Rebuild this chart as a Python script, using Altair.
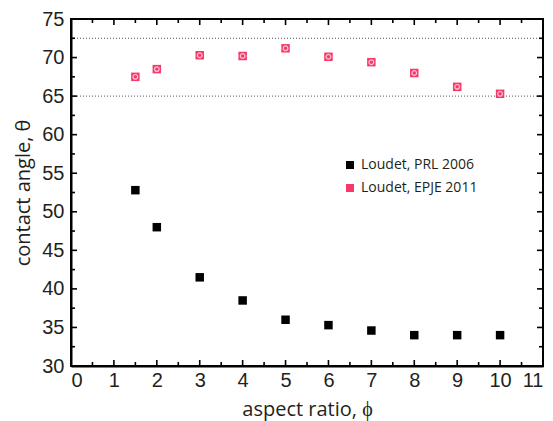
import altair as alt
import pandas as pd

aspect = [1.5, 2, 3, 4, 5, 6, 7, 8, 9, 10]
prl_2006 = [52.8, 48.0, 41.5, 38.5, 36.0, 35.3, 34.6, 34.0, 34.0, 34.0]
epje_2011 = [67.5, 68.5, 70.3, 70.2, 71.2, 70.1, 69.4, 68.0, 66.2, 65.3]
ref_lines = [65.0, 72.5]
series_names = ["Loudet, PRL 2006", "Loudet, EPJE 2011"]
colors = ["#000000", "#f7396a"]

x_range = [0, 11]
y_range = [30, 75]
x_major = list(range(0, 12))
x_minor = [i + 0.5 for i in range(0, 11)]
y_major = list(range(30, 80, 5))
y_minor = [32.5 + 5 * i for i in range(0, 9)]

W, H = 472, 347

rows = []
for s, vals in zip(series_names, (prl_2006, epje_2011)):
    for a, t in zip(aspect, vals):
        rows.append({"phi": a, "theta": t, "series": s, "kind": "data"})
for t in ref_lines:
    rows.append({"phi": x_range[0], "theta": t, "series": "", "kind": "ref"})
rows.append({"phi": x_range[0], "theta": y_range[1], "series": "", "kind": "frame_top"})
rows.append({"phi": x_range[1], "theta": y_range[0], "series": "", "kind": "frame_right"})
for v in x_major:
    rows.append({"phi": v, "theta": y_range[0], "series": "", "kind": "tb_major"})
    rows.append({"phi": v, "theta": y_range[1], "series": "", "kind": "tt_major"})
for v in x_minor:
    rows.append({"phi": v, "theta": y_range[0], "series": "", "kind": "tb_minor"})
    rows.append({"phi": v, "theta": y_range[1], "series": "", "kind": "tt_minor"})
for v in y_major:
    rows.append({"phi": x_range[0], "theta": v, "series": "", "kind": "tl_major"})
    rows.append({"phi": x_range[1], "theta": v, "series": "", "kind": "tr_major"})
for v in y_minor:
    rows.append({"phi": x_range[0], "theta": v, "series": "", "kind": "tl_minor"})
    rows.append({"phi": x_range[1], "theta": v, "series": "", "kind": "tr_minor"})
df = pd.DataFrame(rows)

xs = alt.Scale(domain=x_range, nice=False, zero=False)
ys = alt.Scale(domain=y_range, nice=False, zero=False)

TXT = "#231f20"
LBL_FONT = "Liberation Sans"
TTL_FONT = "Open Sans"

x_axis = alt.Axis(
    values=x_major, tickSize=0,
    labelFont=LBL_FONT, labelFontSize=20,
    labelColor=TXT, labelPadding=4, title="aspect ratio, ϕ", titleFont=TTL_FONT,
    titleFontSize=20, titleFontWeight="normal", titleColor=TXT, titlePadding=9,
    grid=False, domainColor="#000", domainWidth=2)
y_axis = alt.Axis(
    values=y_major, tickSize=0,
    labelFont=LBL_FONT, labelFontSize=20,
    labelColor=TXT, labelPadding=7, title="contact angle, θ", titleFont=TTL_FONT,
    titleFontSize=20, titleFontWeight="normal", titleColor=TXT, titlePadding=8,
    grid=False, domainColor="#000", domainWidth=2)

X = alt.X("phi:Q", scale=xs, axis=x_axis, title="aspect ratio, ϕ")
Y = alt.Y("theta:Q", scale=ys, axis=y_axis, title="contact angle, θ")

base = alt.Chart(df)


def only(kind):
    return base.transform_filter(alt.datum.kind == kind)


def ticks(kind, path, size):
    return only(kind).mark_point(shape=path, size=size, filled=False, color="#000",
                                 strokeWidth=1.6, opacity=1).encode(x=X, y=Y)


tick_layers = [
    ticks("tb_major", "M0,0L0,-1", 144), ticks("tt_major", "M0,0L0,1", 144),
    ticks("tb_minor", "M0,0L0,-1", 64), ticks("tt_minor", "M0,0L0,1", 64),
    ticks("tl_major", "M0,0L1,0", 144), ticks("tr_major", "M0,0L-1,0", 144),
    ticks("tl_minor", "M0,0L1,0", 64), ticks("tr_minor", "M0,0L-1,0", 64),
]

refs = only("ref").mark_rule(color="#555", strokeDash=[1, 2], strokeWidth=1).encode(y=Y)
frame_top = only("frame_top").mark_rule(color="#000", strokeWidth=2).encode(y=Y)
frame_right = only("frame_right").mark_rule(color="#000", strokeWidth=2).encode(x=X)

main = only("data").mark_square(size=72, opacity=1).encode(
    x=X, y=Y,
    color=alt.Color("series:N", scale=alt.Scale(domain=series_names, range=colors),
                    legend=alt.Legend(orient="none", legendX=272, legendY=139, title=None,
                                      symbolType="square", symbolSize=64, symbolStrokeWidth=0,
                                      labelFont=TTL_FONT, labelFontSize=14, labelColor=TXT,
                                      rowPadding=9, labelOffset=4)),
)

ring = only("data").transform_filter(alt.datum.series == series_names[1]).mark_point(
    shape="circle", size=22, color="white", strokeWidth=1.2, filled=False).encode(x=X, y=Y)

chart = alt.layer(refs, frame_top, frame_right, *tick_layers, main, ring).properties(
    width=W, height=H,
    autosize=alt.AutoSizeParams(type="none"),
    padding={"left": 63, "top": 11, "right": 2, "bottom": 55},
).configure_view(stroke="#000", strokeWidth=2)

chart.save("out.html", embed_options={"renderer": "svg", "actions": False})
